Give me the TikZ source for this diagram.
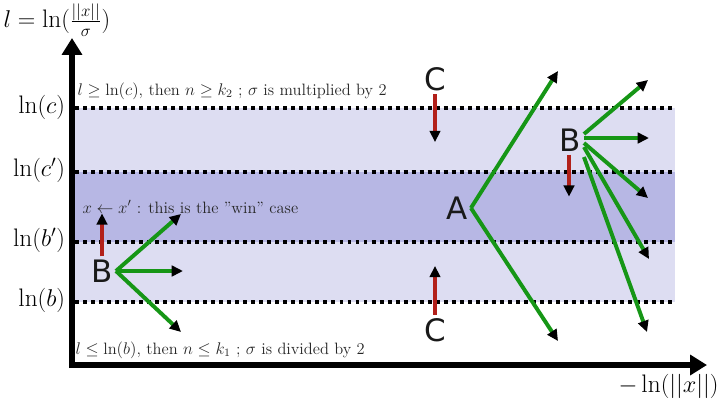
\documentclass[tikz,border=0pt]{standalone}
\usepackage{fontspec}
\newfontfamily\letterfont{DejaVu Sans}
\usetikzlibrary{arrows.meta,positioning,calc}
\tikzset{every picture/.style={line width=0.75pt}}

\definecolor{bandlight}{RGB}{221,221,242}
\definecolor{banddark}{RGB}{183,183,228}
\definecolor{movegreen}{RGB}{22,150,22}
\definecolor{movered}{RGB}{178,32,26}

\tikzset{
  axisline/.style={line width=4.3pt, -{Triangle[length=12pt,width=14pt]}},
  levelline/.style={line width=2.6pt, dash pattern=on 2.8pt off 2.9pt},
  levellabel/.style={anchor=east, font=\fontsize{18}{20}\selectfont, inner sep=1pt},
  casetext/.style={anchor=west, font=\fontsize{11.7}{13}\selectfont, text=black!85, inner sep=0pt},
  pointlabel/.style={font=\letterfont\fontsize{22}{24}\selectfont, text=black!90, inner sep=2pt},
  greenmove/.style={movegreen, line width=2.8pt, -{Triangle[length=8pt,width=7.5pt,color=black]}},
  redmove/.style={movered, line width=2.8pt, -{Triangle[length=8pt,width=7.5pt,color=black]}}
}

\begin{document}
\begin{tikzpicture}[x=0.025cm, y=-0.025cm]
    \useasboundingbox (0,0) rectangle (721,408);

    % bands
    \fill[bandlight] (75,108) rectangle (675,172);
    \fill[banddark] (75,172) rectangle (675,242);
    \fill[bandlight] (75,242) rectangle (675,302);
    \draw[levelline] (75,108) -- (675,108);
    \draw[levelline] (75,172) -- (675,172);
    \draw[levelline] (75,242) -- (675,242);
    \draw[levelline] (75,302) -- (675,302);

    % axes
    \coordinate (O) at (72,365);
    \coordinate (ytip) at (72,38);
    \coordinate (xtip) at (707,365);
    \draw[axisline] ($(O)+(0,3)$) -- (ytip);
    \draw[axisline] ($(O)+(-3,0)$) -- (xtip);

    \node[anchor=west, font=\fontsize{18}{20}\selectfont, inner sep=0pt] (ylab) at (3,20) {$l=\ln(\frac{||x||}{\sigma})$};
    \node[anchor=east, font=\fontsize{18}{20}\selectfont, inner sep=0pt] (xlab) at (719,386) {$-\ln(||x||)$};

    \node[levellabel] (lnc) at (67,107) {$\ln(c)$};
    \node[levellabel] (lncp) at (67,170) {$\ln(c')$};
    \node[levellabel] (lnbp) at (67,240) {$\ln(b')$};
    \node[levellabel] (lnb) at (67,300) {$\ln(b)$};

    % texts of the cases
    \node[casetext] (up) at (77,91) {$l\geq\ln(c)$, then $n\geq k_2$ ; $\sigma$ is multiplied by 2};
    \node[casetext] (win) at (82,207) {$x\leftarrow x'$ : this is the "win" case};
    \node[casetext] (down) at (75,350) {$l\leq\ln(b)$, then $n\leq k_1$ ; $\sigma$ is divided by 2};

    % points
    \node[pointlabel] (Bwin) at (102,271) {B};
    \node[pointlabel] (Ctop) at (435,79) {C};
    \node[pointlabel] (Cbot) at (435,330) {C};
    \node[pointlabel] (A) at (457,208) {A};
    \node[pointlabel] (Bfail) at (570,140) {B};

    \coordinate (bw1) at (181,214);
    \coordinate (bw2) at ($(Bwin.east)+(67,0)$);
    \coordinate (bw3) at (181,332);
    \coordinate (bwup) at ($(Bwin.north)+(0,-43)$);
    \coordinate (ctdown) at ($(Ctop.south)+(0,48)$);
    \coordinate (cbup) at ($(Cbot.north)+(0,-49)$);
    \coordinate (a1) at (558,71);
    \coordinate (a2) at (558,341);
    \coordinate (bf1) at (648,80);
    \coordinate (bf2) at ($(Bfail.east)+(65,-2)$);
    \coordinate (bf3) at (648,198);
    \coordinate (bf4) at (649,259);
    \coordinate (bf5) at (647,332);
    \coordinate (bfdown) at ($(Bfail.south)+(-1,42)$);

    \draw[redmove] (Bwin.north) -- (bwup);
    \draw[greenmove] (Bwin.east) -- (bw1);
    \draw[greenmove] (Bwin.east) -- (bw2);
    \draw[greenmove] (Bwin.east) -- (bw3);

    \draw[redmove] (Ctop.south) -- (ctdown);
    \draw[redmove] (Cbot.north) -- (cbup);

    \draw[greenmove] (A.east) -- (a1);
    \draw[greenmove] (A.east) -- (a2);

    \draw[redmove] ($(Bfail.south)+(-1,0)$) -- (bfdown);
    \draw[greenmove] ($(Bfail.east)+(0,-6)$) -- (bf1);
    \draw[greenmove] ($(Bfail.east)+(0,-2)$) -- (bf2);
    \draw[greenmove] ($(Bfail.east)+(0,3)$) -- (bf3);
    \draw[greenmove] ($(Bfail.east)+(0,7)$) -- (bf4);
    \draw[greenmove] ($(Bfail.east)+(0,17)$) -- (bf5);
\end{tikzpicture}
\end{document}
